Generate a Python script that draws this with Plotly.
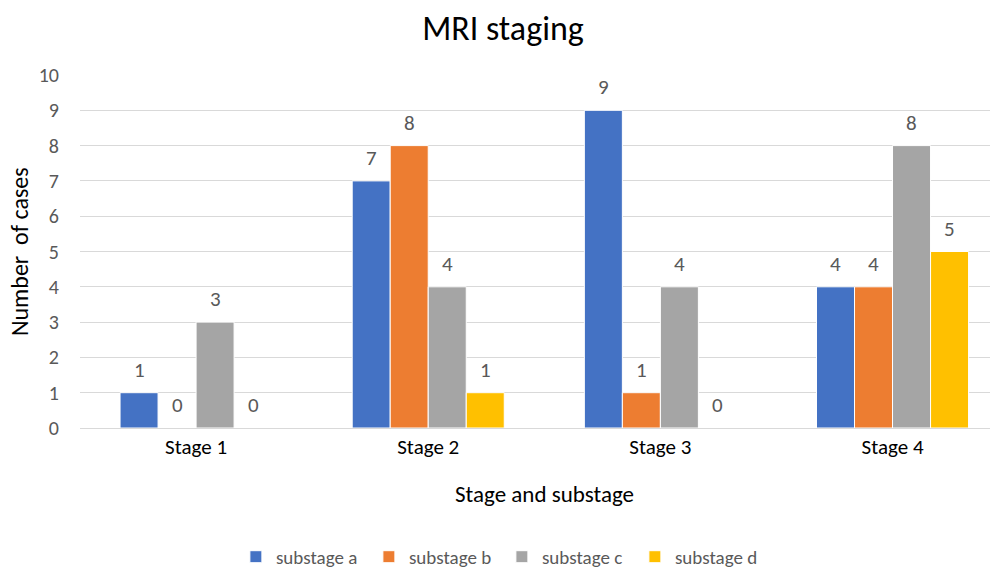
import plotly.graph_objects as go

categories = ["Stage 1", "Stage 2", "Stage 3", "Stage 4"]
series_names = ["substage a", "substage b", "substage c", "substage d"]
substage_a = [1, 7, 9, 4]
substage_b = [0, 8, 1, 4]
substage_c = [3, 4, 4, 8]
substage_d = [0, 1, 0, 5]
colors = ["#4472C4", "#ED7D31", "#A5A5A5", "#FFC000"]
y_ticks = list(range(0, 11))

FONT = "Carlito, Calibri, Lato, sans-serif"
GREY = "#595959"
BAR_PX = 38  # approximate pixel width of one bar

all_series = [substage_a, substage_b, substage_c, substage_d]

fig = go.Figure()
annotations = []
for i, (name, vals, col) in enumerate(zip(series_names, all_series, colors)):
    fig.add_trace(go.Bar(
        x=categories, y=vals, name=name,
        marker=dict(color=col, line=dict(color="white", width=1)),
    ))
    for cat, v in zip(categories, vals):
        annotations.append(dict(
            x=cat, y=v, xref="x", yref="y", text=str(v), showarrow=False,
            xanchor="center", yanchor="bottom", xshift=(i - 1.5) * BAR_PX, yshift=8,
            font=dict(size=21, color=GREY, family=FONT),
        ))

annotations += [
    dict(text="Stage and substage", xref="paper", yref="paper", x=0.506, y=-0.187,
         xanchor="center", yanchor="middle", showarrow=False,
         font=dict(size=23, color="black", family=FONT)),
    dict(text="Number  of cases", xref="paper", yref="paper", x=-0.066, y=0.5,
         xanchor="center", yanchor="middle", showarrow=False, textangle=-90,
         font=dict(size=24, color="black", family=FONT)),
]

fig.update_layout(
    width=990, height=561,
    barmode="group", bargap=0.345, bargroupgap=0,
    paper_bgcolor="white", plot_bgcolor="white",
    margin=dict(l=72, r=1, t=67, b=141, autoexpand=False),
    title=dict(text="MRI staging", x=0.5, xanchor="center", y=0.965, yanchor="middle",
               font=dict(size=34, color="black", family=FONT)),
    font=dict(family=FONT, color=GREY),
    xaxis=dict(
        showgrid=False, showline=True, linecolor="#D9D9D9", linewidth=1,
        range=[-0.5, 3.45],
        ticks="", tickfont=dict(size=21, color="black", family=FONT), automargin=False,
    ),
    yaxis=dict(
        range=[0, 10], tickvals=y_ticks, showgrid=True, gridcolor="#D9D9D9", gridwidth=1,
        zeroline=False, showline=False, ticks="", ticklabelstandoff=20,
        tickfont=dict(size=20, color=GREY, family=FONT), automargin=False,
    ),
    annotations=annotations,
    legend=dict(orientation="h", x=0.17, xanchor="left", y=-0.365, yanchor="middle",
                font=dict(size=19, color=GREY, family=FONT), itemwidth=30,
                entrywidth=88, entrywidthmode="pixels",
                traceorder="normal"),
    showlegend=True,
)

fig.write_html("out.html")
